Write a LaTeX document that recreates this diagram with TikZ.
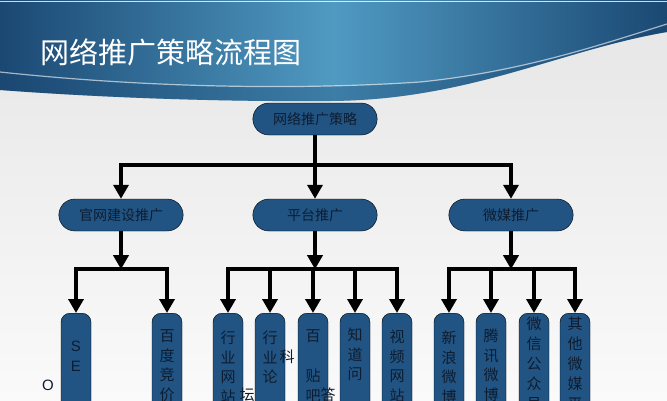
\documentclass[tikz,border=0pt]{standalone}
\usepackage{fontspec}
\setsansfont{Liberation Sans}
\newfontfamily\cjk{Noto Sans CJK SC}
\usetikzlibrary{arrows.meta}
\usetikzlibrary{shapes.misc}
\usetikzlibrary{positioning}
\definecolor{boxblue}{RGB}{33,84,130}
\definecolor{inkblue}{RGB}{14,28,48}
\definecolor{banddark}{RGB}{26,72,115}
\definecolor{bandlight}{RGB}{80,154,194}
\tikzset{
  topbox/.style={rounded rectangle,draw=black,fill=boxblue,minimum width=131pt,minimum height=32pt,text=inkblue,font=\cjk\fontsize{14}{14}\selectfont},
  leaf/.style={rectangle,rounded corners=9pt,draw=black,fill=boxblue,minimum width=30pt,minimum height=130pt,anchor=north},
  vtext/.style={align=center,inner sep=0pt,anchor=north,text=inkblue,font=\cjk\fontsize{15}{19.5}\selectfont},
  stray/.style={inner sep=0pt,text=inkblue,font=\cjk\fontsize{15}{15}\selectfont},
  line/.style={line width=4pt,black},
  arrow/.style={line width=4pt,black,-{Triangle[width=15pt,length=14pt]}}
}
\begin{document}
\begin{tikzpicture}[x=1pt,y=-1pt]
  \useasboundingbox (0,0) rectangle (667,400);
  \clip (0,0) rectangle (667,400);
  % background and banner
  \shade[top color=black!10,bottom color=black!2] (0,0) rectangle (667,400);
  \shade[left color=banddark,right color=banddark,middle color=bandlight]
    (0,0) -- (667,0) -- (667,32) .. controls (560,50) and (470,100) .. (330,101)
    .. controls (200,102) and (80,96) .. (0,90) -- cycle;
  \fill[banddark,opacity=0.35]
    (0,72) .. controls (150,88) and (300,90) .. (420,82) .. controls (520,72) and (600,45) .. (667,24)
    -- (667,32) .. controls (560,50) and (470,100) .. (330,101)
    .. controls (200,102) and (80,96) .. (0,90) -- cycle;
  \draw[white,opacity=0.6,line width=1.2pt]
    (0,72) .. controls (150,88) and (300,90) .. (420,82) .. controls (520,72) and (600,45) .. (667,24);
  \draw[white,opacity=0.8,line width=1pt] (0,1.5) -- (667,1.5);
  \node[anchor=west,inner sep=0pt,text=white,font=\cjk\fontsize{29}{29}\selectfont] (title) at (40,52) {网络推广策略流程图};

  % top levels
  \node[topbox] (root) at (315,119) {网络推广策略};
  \node[topbox] (web) at (121,215) {官网建设推广};
  \node[topbox] (plat) at (315,215) {平台推广};
  \node[topbox] (media) at (511,215) {微媒推广};
  \draw[line] (root.south) -- ++(0,30) coordinate (j0);
  \draw[arrow] (j0) -| (web.north);
  \draw[arrow] (j0) -- (plat.north);
  \draw[arrow] (j0) -| (media.north);

  % leaves
  \node[leaf] (seo) at (76,313) {};
  \node[leaf] (bid) at (167,313) {};
  \node[leaf] (site) at (228,313) {};
  \node[leaf] (forum) at (270,313) {};
  \node[leaf] (baike) at (313,313) {};
  \node[leaf] (zhidao) at (355,313) {};
  \node[leaf] (video) at (397,313) {};
  \node[leaf] (sina) at (449,313) {};
  \node[leaf] (tencent) at (491,313) {};
  \node[leaf] (wechat) at (534,313) {};
  \node[leaf] (other) at (575,313) {};

  \draw[arrow] (web.south) -- ++(0,38) coordinate (j1);
  \draw[arrow] (j1) -| (seo.north);
  \draw[arrow] (j1) -| (bid.north);
  \draw[arrow] (plat.south) -- ++(0,38) coordinate (j2);
  \draw[arrow] (j2) -| (site.north);
  \draw[arrow] (j2) -| (forum.north);
  \draw[arrow] (j2) -| (baike.north);
  \draw[arrow] (j2) -| (zhidao.north);
  \draw[arrow] (j2) -| (video.north);
  \draw[arrow] (media.south) -- ++(0,38) coordinate (j3);
  \draw[arrow] (j3) -| (sina.north);
  \draw[arrow] (j3) -| (tencent.north);
  \draw[arrow] (j3) -| (wechat.north);
  \draw[arrow] (j3) -| (other.north);

  % leaf texts
  \node[vtext,font=\sffamily\fontsize{15}{20}\selectfont] (seo-t) at (76,341) {S\\E};
  \node[stray,font=\sffamily\fontsize{15}{15}\selectfont] (seo-o) at (48,385) {O};
  \node[vtext] (bid-t) at (167,330) {百\\度\\竞\\价};
  \node[vtext] (site-t) at (228,331) {行\\业\\网\\站};
  \node[vtext] (forum-t) at (270,331) {行\\业\\论};
  \node[stray] (forum-o) at (247,395) {坛};
  \node[vtext] (baike-t) at (313,330) {百};
  \node[stray] (baike-o) at (287,357) {科};
  \node[vtext] (tieba-t) at (313,369) {贴\\吧};
  \node[vtext] (zhidao-t) at (355,328) {知\\道\\问};
  \node[stray] (zhidao-o) at (328,395) {答};
  \node[vtext] (video-t) at (397,330) {视\\频\\网\\站};
  \node[vtext] (sina-t) at (449,331) {新\\浪\\微\\博};
  \node[vtext] (tencent-t) at (491,329) {腾\\讯\\微\\博};
  \node[vtext,font=\cjk\fontsize{15}{20}\selectfont] (wechat-t) at (534,317) {微\\信\\公\\众\\号};
  \node[vtext,font=\cjk\fontsize{15}{20}\selectfont] (other-t) at (575,317) {其\\他\\微\\媒\\平};
\end{tikzpicture}
\end{document}
